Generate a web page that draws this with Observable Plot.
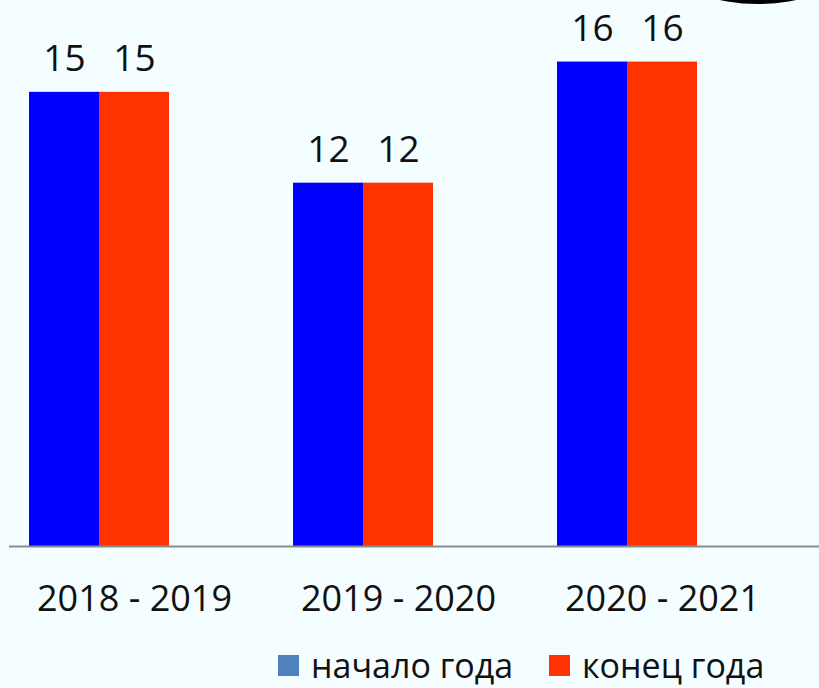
<!DOCTYPE html>
<html>
<head>
<meta charset="utf-8">
<script src="https://cdn.jsdelivr.net/npm/d3@7"></script>
<script src="https://cdn.jsdelivr.net/npm/@observablehq/plot@0.6"></script>
<style>
  html, body { margin: 0; padding: 0; background: #f4fdff; }
  #wrap { position: relative; width: 819px; height: 688px; overflow: hidden; font-family: "Open Sans", sans-serif; }
  #chart svg { display: block; }
  .ell { position: absolute; left: 678px; top: -62px; width: 160px; height: 66px; border: 4px solid #000; border-radius: 50%; box-sizing: border-box; }
  .lg { position: absolute; top: 644px; height: 42px; display: flex; align-items: center; font-size: 34px; color: #111; white-space: nowrap; }
  .sw { display: inline-block; width: 21px; height: 21px; margin-right: 12px; }
</style>
</head>
<body>
<div id="wrap">
  <div id="chart"></div>
  <div class="ell"></div>
</div>
<script>
const years = ["2018 - 2019", "2019 - 2020", "2020 - 2021"];
const series = ["начало года", "конец года"];
const startValues = [15, 12, 16];
const endValues = [15, 12, 16];
const barColors = ["#0000ff", "#ff3300"];
const legendColors = ["#4f81bd", "#ff3300"];

const startData = years.map((y, i) => ({year: y, series: series[0], value: startValues[i]}));
const endData = years.map((y, i) => ({year: y, series: series[1], value: endValues[i]}));

const chart = Plot.plot({
  width: 819,
  height: 688,
  marginLeft: 9,
  marginRight: 0,
  marginTop: 1,
  marginBottom: 142,
  style: {background: "transparent", fontFamily: "Open Sans, sans-serif", color: "#111"},
  x: {domain: years, range: [28, 697], paddingInner: 0.47, paddingOuter: 0, label: null},
  y: {domain: [0, 18], range: [546, 1], axis: null},
  marks: [
    Plot.barY(startData, {x: "year", y: "value", fill: barColors[0], insetLeft: 0, insetRight: 70}),
    Plot.barY(endData, {x: "year", y: "value", fill: barColors[1], insetLeft: 70, insetRight: 0}),
    Plot.text(startData, {x: "year", y: "value", text: d => String(d.value), dx: -35, dy: -21, lineAnchor: "bottom", fontSize: 37, fill: "#111"}),
    Plot.text(endData, {x: "year", y: "value", text: d => String(d.value), dx: 35, dy: -21, lineAnchor: "bottom", fontSize: 37, fill: "#111"}),
    Plot.ruleY([0], {stroke: "#8c8c8c", strokeWidth: 2}),
    Plot.axisX({tickSize: 0, tickPadding: 39, fontSize: 36, dx: 35, label: null, fill: "#111"})
  ]
});
document.getElementById("chart").appendChild(chart);

const wrap = document.getElementById("wrap");
const legendLeft = [278, 549];
series.forEach((s, i) => {
  const d = document.createElement("div");
  d.className = "lg";
  d.style.left = legendLeft[i] + "px";
  const sw = document.createElement("span");
  sw.className = "sw";
  sw.style.background = legendColors[i];
  d.appendChild(sw);
  d.appendChild(document.createTextNode(s));
  wrap.appendChild(d);
});
</script>
</body>
</html>
